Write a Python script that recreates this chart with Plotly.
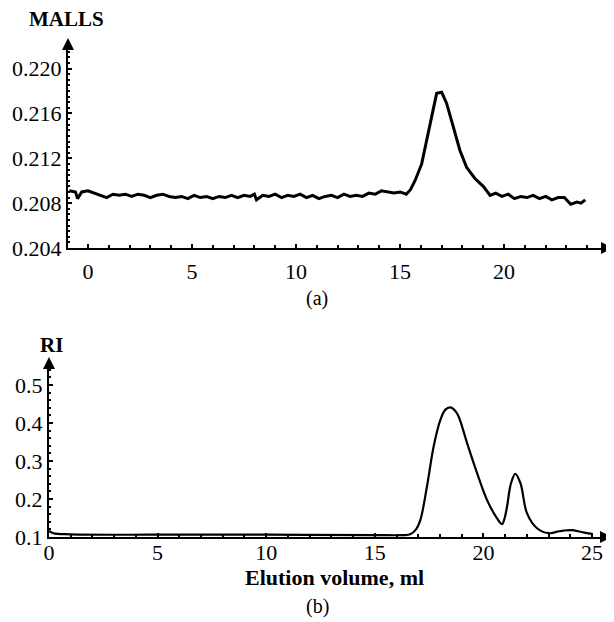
import plotly.graph_objects as go

# MALLS trace (panel a)
malls_x = [-0.9, -0.6, -0.5, -0.3, 0.0, 0.3, 0.6, 0.9, 1.2, 1.5, 1.8, 2.1, 2.4, 2.7, 3.0,
           3.3, 3.6, 3.9, 4.2, 4.5, 4.8, 5.1, 5.4, 5.7, 6.0, 6.3, 6.6, 6.9, 7.2, 7.5,
           7.8, 8.0, 8.1, 8.4, 8.7, 9.0, 9.3, 9.6, 9.9, 10.2, 10.5, 10.8, 11.1, 11.4, 11.7,
           12.0, 12.3, 12.6, 12.9, 13.2, 13.5, 13.8, 14.1, 14.4, 14.7, 15.0, 15.3,
           15.5, 15.72, 16.04, 16.28, 16.52, 16.76, 17.0, 17.24, 17.56, 17.88, 18.2, 18.6,
           19.0, 19.33, 19.6, 19.9, 20.2, 20.5, 20.8, 21.1, 21.4, 21.7, 22.0, 22.3, 22.6,
           22.9, 23.2, 23.5, 23.7, 23.9]
malls_y = [0.2091, 0.2090, 0.2084, 0.2090, 0.2091, 0.2089, 0.2087, 0.2085, 0.2088, 0.2087,
           0.2088, 0.2086, 0.2088, 0.2087, 0.2085, 0.2087, 0.2088, 0.2086, 0.2085, 0.2086,
           0.2084, 0.2087, 0.2085, 0.2086, 0.2084, 0.2086, 0.2085, 0.2087, 0.2085, 0.2087,
           0.2086, 0.2088, 0.2083, 0.2087, 0.2086, 0.2088, 0.2085, 0.2087, 0.2086, 0.2088,
           0.2085, 0.2087, 0.2084, 0.2086, 0.2087, 0.2085, 0.2088, 0.2086, 0.2087, 0.2086,
           0.2089, 0.2088, 0.2091, 0.2090, 0.2089, 0.2090, 0.2088,
           0.2092, 0.2100, 0.2115, 0.2136, 0.2160, 0.2178, 0.2179, 0.2169, 0.2148, 0.2127,
           0.2112, 0.2102, 0.2095, 0.2087, 0.2089, 0.2086, 0.2088, 0.2084, 0.2086, 0.2085,
           0.2087, 0.2084, 0.2086, 0.2083, 0.2085, 0.2085, 0.2079, 0.2081, 0.2080, 0.2083]

# RI trace (panel b)
ri_x = [0.0, 0.2, 1.0, 5.0, 10.0, 15.0, 16.3, 16.63, 16.9, 17.1, 17.4, 17.71, 18.02, 18.25,
        18.48, 18.7, 18.86, 19.25, 19.71, 20.17, 20.63, 20.86, 20.98, 21.09, 21.27, 21.47,
        21.71, 22.01, 22.47, 23.0, 23.4, 23.7, 24.1, 24.6, 25.0]
ri_y = [0.116, 0.110, 0.107, 0.106, 0.106, 0.105, 0.105, 0.107, 0.120, 0.145, 0.232, 0.338,
        0.408, 0.435, 0.441, 0.432, 0.417, 0.347, 0.268, 0.197, 0.149, 0.134, 0.150, 0.180,
        0.241, 0.266, 0.241, 0.162, 0.123, 0.110, 0.114, 0.117, 0.118, 0.112, 0.108]

malls_ticks = [0.204, 0.208, 0.212, 0.216, 0.220]
ri_ticks = [0.1, 0.2, 0.3, 0.4, 0.5]
x_ticks_a = [0, 5, 10, 15, 20]
x_ticks_b = [0, 5, 10, 15, 20, 25]

# the page body has an 8px margin, so the figure is a bit smaller than the window
OFF = 8
W, H = 614 - OFF, 622 - OFF
serif = "Liberation Serif"


def px(x):  # window pixel -> paper x
    return (x - OFF) / W


def py(y):  # window pixel -> paper y
    return 1 - (y - OFF) / H


fig = go.Figure()
fig.add_trace(go.Scatter(x=malls_x, y=malls_y, mode="lines",
                         line=dict(color="black", width=3), xaxis="x", yaxis="y"))
fig.add_trace(go.Scatter(x=ri_x, y=ri_y, mode="lines", line_shape="spline",
                         line=dict(color="black", width=2.2), xaxis="x2", yaxis="y2"))

axis_common = dict(showline=True, linecolor="black", linewidth=2, showgrid=False,
                   zeroline=False, ticks="inside", ticklen=4, tickwidth=1.5,
                   automargin=False, tickcolor="black",
                   tickfont=dict(family=serif, size=22, color="black"))

fig.update_layout(
    width=W, height=H,
    margin=dict(l=0, r=0, t=0, b=0),
    paper_bgcolor="white", plot_bgcolor="white",
    showlegend=False,
    xaxis=dict(axis_common, domain=[px(68), px(606)], range=[-0.96, 24.9],
               tickvals=x_ticks_a, anchor="y", ticklabelstandoff=3,
               minor=dict(dtick=1, ticks="inside", ticklen=3, tickcolor="black")),
    yaxis=dict(axis_common, domain=[py(248), py(44)], range=[0.204, 0.2222],
               tickvals=malls_ticks, tickformat=".3f", anchor="x", ticklabelstandoff=0,
               minor=dict(dtick=0.0005, ticks="inside", ticklen=2, tickcolor="black")),
    xaxis2=dict(axis_common, domain=[px(49), px(605)], range=[0, 25.6],
                tickvals=x_ticks_b, anchor="y2", ticklabelstandoff=-5,
                minor=dict(dtick=1, ticks="inside", ticklen=3, tickcolor="black")),
    yaxis2=dict(axis_common, domain=[py(537), py(364)], range=[0.1, 0.555],
                tickvals=ri_ticks, tickformat=".1f", anchor="x2", ticklabelstandoff=0,
                minor=dict(dtick=0.02, ticks="inside", ticklen=2, tickcolor="black")),
)

# axis arrowheads
arrow = dict(showarrow=True, arrowhead=2, arrowsize=1.2, arrowwidth=2, arrowcolor="black",
             text="", axref="pixel", ayref="pixel", xref="paper", yref="paper")
fig.add_annotation(arrow, x=px(613), y=py(248), ax=-10, ay=0)
fig.add_annotation(arrow, x=px(68), y=py(38), ax=0, ay=10)
fig.add_annotation(arrow, x=px(612), y=py(537), ax=-10, ay=0)
fig.add_annotation(arrow, x=px(49), y=py(357), ax=0, ay=10)

# labels
lab = dict(xref="paper", yref="paper", showarrow=False, xanchor="center", yanchor="middle")
fig.add_annotation(lab, x=px(66), y=py(19), text="<b>MALLS</b>",
                   font=dict(family=serif, size=21, color="black"))
fig.add_annotation(lab, x=px(51), y=py(345), text="<b>RI</b>",
                   font=dict(family=serif, size=21, color="black"))
fig.add_annotation(lab, x=px(317), y=py(298), text="(a)",
                   font=dict(family=serif, size=20, color="black"))
fig.add_annotation(lab, x=px(317), y=py(606), text="(b)",
                   font=dict(family=serif, size=20, color="black"))
fig.add_annotation(lab, x=px(334), y=py(577), text="<b>Elution volume, ml</b>",
                   font=dict(family=serif, size=22, color="black"))

fig.write_html("out.html")
